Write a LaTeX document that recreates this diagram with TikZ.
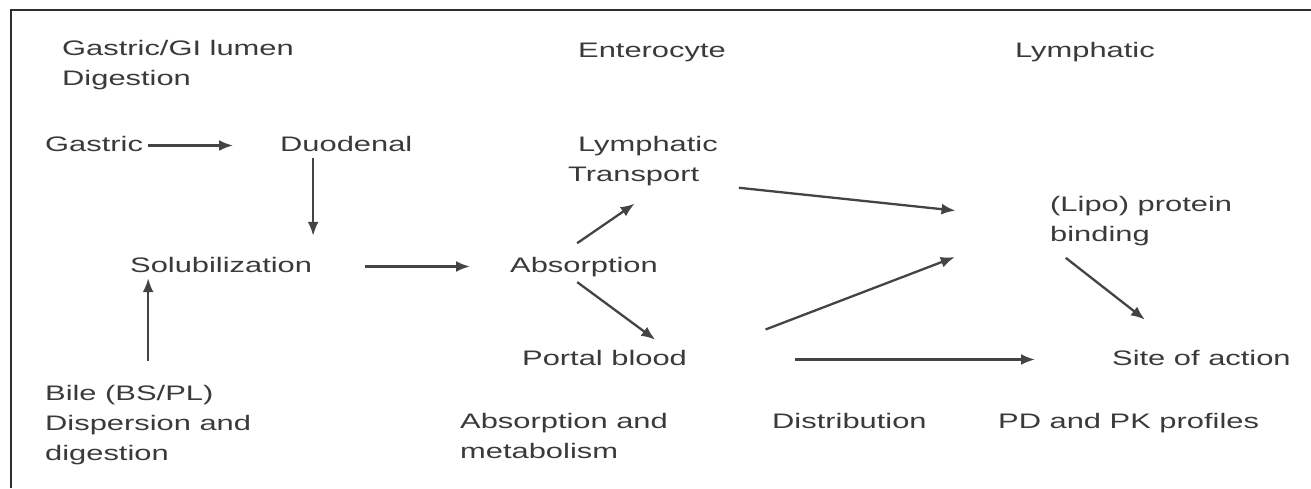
\documentclass[tikz,border=0pt]{standalone}
\usepackage{fontspec}
\usetikzlibrary{arrows.meta,calc}
\newfontfamily\labfont[FakeStretch=1.47]{Liberation Sans}
\definecolor{txtcol}{HTML}{3A3A3A}
\definecolor{arrcol}{HTML}{444444}
\definecolor{framecol}{HTML}{2E2E2E}
\begin{document}
\begin{tikzpicture}[x=1pt,y=-1pt,
  lbl/.style={font=\labfont\fontsize{21}{30}\selectfont, text=txtcol, inner sep=0pt, anchor=base west},
  one/.style={lbl, text height=15pt, text depth=4pt},
  multi/.style={lbl, align=left},
  arr/.style={draw=arrcol, line width=2.3pt, -{Latex[length=14pt,width=11pt]}}
]
\useasboundingbox[fill=white] (0,0) rectangle (1311,488);
\draw[framecol, line width=2.2pt] (11,488) -- (11,10) -- (1311,10);

% headers (multi-line nodes: base = baseline of last line)
\node[multi] (hdrgi) at (62,85) {Gastric/GI lumen\\Digestion};
\node[one] (hdrent) at (578,57) {Enterocyte};
\node[one] (hdrlym) at (1015,57) {Lymphatic};

% main nodes
\node[one] (gastric) at (45,151) {Gastric};
\node[one] (duod) at (280,151) {Duodenal};
\node[one] (solub) at (130,272) {Solubilization};
\node[multi] (bile) at (45,460) {Bile (BS/PL)\\Dispersion and\\digestion};
\node[one] (absorp) at (510,272) {Absorption};
\node[multi] (lymph) at (568,181) {\hspace*{10pt}Lymphatic\\Transport};
\node[one] (portal) at (522,365) {Portal blood};
\node[multi] (lipo) at (1050,241) {(Lipo) protein\\binding};
\node[one] (site) at (1112,365) {Site of action};

% footers
\node[multi] (absmet) at (460,458) {Absorption and\\metabolism};
\node[one] (distr) at (772,428) {Distribution};
\node[one] (pdpk) at (998,428) {PD and PK profiles};

% helper points on node borders
\coordinate (dtop) at ($(duod.south west)!0.25!(duod.south east)$);
\coordinate (absA) at ($(absorp.north west)!0.32!(absorp.north east)$);
\coordinate (lymB) at ($(lymph.south west)!0.62!(lymph.south east)$);
\coordinate (absC) at ($(absorp.south west)!0.40!(absorp.south east)$);
\coordinate (porD) at ($(portal.north west)!0.89!(portal.north east)$);
\coordinate (siteN) at ($(site.north west)!0.40!(site.north east)$);

% connectors
\draw[arr, shorten <=5pt, shorten >=47pt] (gastric.east) -- (duod.west);
\draw[arr, shorten <=3pt, shorten >=21pt] (dtop) -- (dtop |- solub.north);
\draw[arr, shorten <=24pt, shorten >=2pt] (bile.north) -- (bile.north |- solub.south);
\draw[arr, shorten <=53pt, shorten >=40pt] (solub.east) -- (absorp.west);
\draw[arr, shorten <=24pt, shorten >=32pt] (absA) -- (lymB);
\draw[arr, shorten <=21pt, shorten >=95pt] (lymph.south east) -- (lipo.west);
\draw[arr, shorten <=10pt, shorten >=17pt] (absC) -- (porD);
\draw[arr, shorten <=84pt, shorten >=102pt] (portal.east) -- (lipo.west);
\draw[arr, shorten <=108pt, shorten >=77pt] (portal.east) -- (site.west);
\draw[arr, shorten <=20pt, shorten >=49pt] (lipo.south west) -- (siteN);
\end{tikzpicture}
\end{document}
